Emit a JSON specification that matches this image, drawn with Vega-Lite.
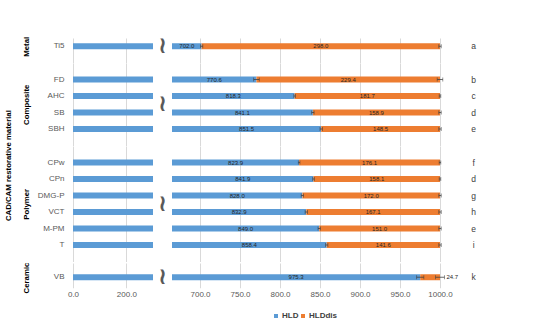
{
  "$schema": "https://vega.github.io/schema/vega-lite/v6.json",
  "padding": {"left": 5, "top": 35, "right": 5, "bottom": 0},
  "config": {
    "font": "Liberation Sans",
    "view": {"stroke": null},
    "axisY": {"domain": false, "ticks": false, "grid": false, "labelPadding": 9, "labelFontSize": 8, "labelColor": "#595959", "minExtent": 40, "maxExtent": 40, "titleFontWeight": "bold", "titleFontSize": 7.8, "titleColor": "#000000", "titlePadding": 3},
    "axisX": {"domain": false, "ticks": false, "gridColor": "#D9D9D9", "labelFontSize": 8, "labelColor": "#595959", "labelPadding": 3, "labelFlush": false, "labelOverlap": false}
  },
  "title": {"text": "CAD/CAM restorative material", "orient": "left", "anchor": "middle", "fontSize": 7.8, "fontWeight": "bold", "color": "#000000", "offset": 9, "dx": 12},
  "data": {
    "values": [
      {"material": "Ti5", "group": "Metal", "HLD": 702.0, "HLDdis": 298.0, "sdHLD": 1.5, "sdDis": 1.5, "letter": "a"},
      {"material": "FD", "group": "Composite", "HLD": 770.6, "HLDdis": 229.4, "sdHLD": 3.5, "sdDis": 3.5, "letter": "b"},
      {"material": "AHC", "group": "Composite", "HLD": 818.3, "HLDdis": 181.7, "sdHLD": 1.0, "sdDis": 1.0, "letter": "c"},
      {"material": "SB", "group": "Composite", "HLD": 841.1, "HLDdis": 158.9, "sdHLD": 1.5, "sdDis": 1.5, "letter": "d"},
      {"material": "SBH", "group": "Composite", "HLD": 851.5, "HLDdis": 148.5, "sdHLD": 1.5, "sdDis": 1.5, "letter": "e"},
      {"material": "CPw", "group": "Polymer", "HLD": 823.9, "HLDdis": 176.1, "sdHLD": 1.0, "sdDis": 1.0, "letter": "f"},
      {"material": "CPn", "group": "Polymer", "HLD": 841.9, "HLDdis": 158.1, "sdHLD": 1.0, "sdDis": 1.0, "letter": "d"},
      {"material": "DMG-P", "group": "Polymer", "HLD": 828.0, "HLDdis": 172.0, "sdHLD": 1.5, "sdDis": 1.5, "letter": "g"},
      {"material": "VCT", "group": "Polymer", "HLD": 832.9, "HLDdis": 167.1, "sdHLD": 1.5, "sdDis": 1.5, "letter": "h"},
      {"material": "M-PM", "group": "Polymer", "HLD": 849.0, "HLDdis": 151.0, "sdHLD": 1.5, "sdDis": 1.5, "letter": "e"},
      {"material": "T", "group": "Polymer", "HLD": 858.4, "HLDdis": 141.6, "sdHLD": 1.5, "sdDis": 1.5, "letter": "i"},
      {"material": "VB", "group": "Ceramic", "HLD": 975.3, "HLDdis": 24.7, "sdHLD": 4.5, "sdDis": 5.5, "letter": "k"}
    ]
  },
  "spacing": 0,
  "resolve": {"scale": {"x": "shared", "color": "shared"}},
  "vconcat": [
    {
      "width": 367, "height": 24.75,
      "transform": [{"filter": "datum.group === 'Metal'"}],
      "layer": [
        {
          "transform": [{"fold": ["HLD", "HLDdis"], "as": ["component", "value"]}],
          "mark": {"type": "bar", "size": 6},
          "encoding": {
            "y": {"field": "material", "type": "nominal", "sort": null, "scale": {"paddingInner": 0.636, "paddingOuter": 0.568, "align": 0.28}, "axis": {"title": "Metal", "titleY": 8.25}},
            "x": {"field": "value", "type": "quantitative", "stack": "zero", "scale": {"domain": [0, 300, 665, 1000], "range": [0, 80, 99, 367], "nice": false, "zero": false}, "axis": {"values": [0, 200, 700, 750, 800, 850, 900, 950, 1000], "labels": false, "title": null}},
            "color": {"field": "component", "type": "nominal", "scale": {"domain": ["HLD", "HLDdis"], "range": ["#5B9BD5", "#ED7D31"]}}
          }
        },
        {"mark": {"type": "rect", "color": "white"}, "encoding": {"x": {"datum": 300}, "x2": {"datum": 665}}},
        {"mark": {"type": "errorbar", "ticks": {"size": 4}, "color": "#404040", "thickness": 0.8}, "encoding": {"x": {"field": "HLD", "type": "quantitative"}, "xError": {"field": "sdHLD"}, "y": {"field": "material", "type": "nominal", "sort": null}}},
        {"transform": [{"calculate": "datum.HLD + datum.HLDdis", "as": "tot"}], "mark": {"type": "errorbar", "ticks": {"size": 4}, "color": "#404040", "thickness": 0.8}, "encoding": {"x": {"field": "tot", "type": "quantitative"}, "xError": {"field": "sdDis"}, "y": {"field": "material", "type": "nominal", "sort": null}}},
        {"transform": [{"calculate": "(665 + datum.HLD) / 2", "as": "m1"}], "mark": {"type": "text", "fontSize": 6, "color": "#262626"}, "encoding": {"x": {"field": "m1", "type": "quantitative"}, "y": {"field": "material", "type": "nominal", "sort": null}, "text": {"field": "HLD", "type": "quantitative", "format": ".1f"}}},
        {"transform": [{"filter": "datum.HLDdis >= 50"}, {"calculate": "datum.HLD + datum.HLDdis / 2", "as": "m2"}], "mark": {"type": "text", "fontSize": 6, "color": "#262626"}, "encoding": {"x": {"field": "m2", "type": "quantitative"}, "y": {"field": "material", "type": "nominal", "sort": null}, "text": {"field": "HLDdis", "type": "quantitative", "format": ".1f"}}},
        {"mark": {"type": "text", "text": "≀", "font": "DejaVu Sans", "fontWeight": "bold", "fontSize": 23, "color": "#595959"}, "encoding": {"x": {"datum": 482}, "y": {"field": "material", "type": "nominal", "sort": null}}},
        {"mark": {"type": "text", "fontSize": 8.5, "color": "#404040"}, "encoding": {"x": {"datum": 1042}, "y": {"field": "material", "type": "nominal", "sort": null}, "text": {"field": "letter"}}}
      ]
    },
    {
      "width": 367, "height": 82.5,
      "transform": [{"filter": "datum.group === 'Composite'"}],
      "layer": [
        {
          "transform": [{"fold": ["HLD", "HLDdis"], "as": ["component", "value"]}],
          "mark": {"type": "bar", "size": 6},
          "encoding": {
            "y": {"field": "material", "type": "nominal", "sort": null, "scale": {"paddingInner": 0.636, "paddingOuter": 0.818, "align": 0.5}, "axis": {"title": "Composite"}},
            "x": {"field": "value", "type": "quantitative", "stack": "zero", "scale": {"domain": [0, 300, 665, 1000], "range": [0, 80, 99, 367], "nice": false, "zero": false}, "axis": {"values": [0, 200, 700, 750, 800, 850, 900, 950, 1000], "labels": false, "title": null}},
            "color": {"field": "component", "type": "nominal", "scale": {"domain": ["HLD", "HLDdis"], "range": ["#5B9BD5", "#ED7D31"]}}
          }
        },
        {"mark": {"type": "rect", "color": "white"}, "encoding": {"x": {"datum": 300}, "x2": {"datum": 665}}},
        {"mark": {"type": "errorbar", "ticks": {"size": 4}, "color": "#404040", "thickness": 0.8}, "encoding": {"x": {"field": "HLD", "type": "quantitative"}, "xError": {"field": "sdHLD"}, "y": {"field": "material", "type": "nominal", "sort": null}}},
        {"transform": [{"calculate": "datum.HLD + datum.HLDdis", "as": "tot"}], "mark": {"type": "errorbar", "ticks": {"size": 4}, "color": "#404040", "thickness": 0.8}, "encoding": {"x": {"field": "tot", "type": "quantitative"}, "xError": {"field": "sdDis"}, "y": {"field": "material", "type": "nominal", "sort": null}}},
        {"transform": [{"calculate": "(665 + datum.HLD) / 2", "as": "m1"}], "mark": {"type": "text", "fontSize": 6, "color": "#262626"}, "encoding": {"x": {"field": "m1", "type": "quantitative"}, "y": {"field": "material", "type": "nominal", "sort": null}, "text": {"field": "HLD", "type": "quantitative", "format": ".1f"}}},
        {"transform": [{"filter": "datum.HLDdis >= 50"}, {"calculate": "datum.HLD + datum.HLDdis / 2", "as": "m2"}], "mark": {"type": "text", "fontSize": 6, "color": "#262626"}, "encoding": {"x": {"field": "m2", "type": "quantitative"}, "y": {"field": "material", "type": "nominal", "sort": null}, "text": {"field": "HLDdis", "type": "quantitative", "format": ".1f"}}},
        {"transform": [{"aggregate": [{"op": "count", "as": "n"}], "groupby": ["group"]}], "mark": {"type": "text", "text": "≀", "font": "DejaVu Sans", "fontWeight": "bold", "fontSize": 23, "color": "#595959"}, "encoding": {"x": {"datum": 482}}},
        {"mark": {"type": "text", "fontSize": 8.5, "color": "#404040"}, "encoding": {"x": {"datum": 1042}, "y": {"field": "material", "type": "nominal", "sort": null}, "text": {"field": "letter"}}}
      ]
    },
    {
      "width": 367, "height": 115.5,
      "transform": [{"filter": "datum.group === 'Polymer'"}],
      "layer": [
        {
          "transform": [{"fold": ["HLD", "HLDdis"], "as": ["component", "value"]}],
          "mark": {"type": "bar", "size": 6},
          "encoding": {
            "y": {"field": "material", "type": "nominal", "sort": null, "scale": {"paddingInner": 0.636, "paddingOuter": 0.818, "align": 0.5}, "axis": {"title": "Polymer"}},
            "x": {"field": "value", "type": "quantitative", "stack": "zero", "scale": {"domain": [0, 300, 665, 1000], "range": [0, 80, 99, 367], "nice": false, "zero": false}, "axis": {"values": [0, 200, 700, 750, 800, 850, 900, 950, 1000], "labels": false, "title": null}},
            "color": {"field": "component", "type": "nominal", "scale": {"domain": ["HLD", "HLDdis"], "range": ["#5B9BD5", "#ED7D31"]}}
          }
        },
        {"mark": {"type": "rect", "color": "white"}, "encoding": {"x": {"datum": 300}, "x2": {"datum": 665}}},
        {"mark": {"type": "errorbar", "ticks": {"size": 4}, "color": "#404040", "thickness": 0.8}, "encoding": {"x": {"field": "HLD", "type": "quantitative"}, "xError": {"field": "sdHLD"}, "y": {"field": "material", "type": "nominal", "sort": null}}},
        {"transform": [{"calculate": "datum.HLD + datum.HLDdis", "as": "tot"}], "mark": {"type": "errorbar", "ticks": {"size": 4}, "color": "#404040", "thickness": 0.8}, "encoding": {"x": {"field": "tot", "type": "quantitative"}, "xError": {"field": "sdDis"}, "y": {"field": "material", "type": "nominal", "sort": null}}},
        {"transform": [{"calculate": "(665 + datum.HLD) / 2", "as": "m1"}], "mark": {"type": "text", "fontSize": 6, "color": "#262626"}, "encoding": {"x": {"field": "m1", "type": "quantitative"}, "y": {"field": "material", "type": "nominal", "sort": null}, "text": {"field": "HLD", "type": "quantitative", "format": ".1f"}}},
        {"transform": [{"filter": "datum.HLDdis >= 50"}, {"calculate": "datum.HLD + datum.HLDdis / 2", "as": "m2"}], "mark": {"type": "text", "fontSize": 6, "color": "#262626"}, "encoding": {"x": {"field": "m2", "type": "quantitative"}, "y": {"field": "material", "type": "nominal", "sort": null}, "text": {"field": "HLDdis", "type": "quantitative", "format": ".1f"}}},
        {"transform": [{"aggregate": [{"op": "count", "as": "n"}], "groupby": ["group"]}], "mark": {"type": "text", "text": "≀", "font": "DejaVu Sans", "fontWeight": "bold", "fontSize": 23, "color": "#595959"}, "encoding": {"x": {"datum": 482}}},
        {"mark": {"type": "text", "fontSize": 8.5, "color": "#404040"}, "encoding": {"x": {"datum": 1042}, "y": {"field": "material", "type": "nominal", "sort": null}, "text": {"field": "letter"}}}
      ]
    },
    {
      "width": 367, "height": 24.75,
      "transform": [{"filter": "datum.group === 'Ceramic'"}],
      "layer": [
        {
          "transform": [{"fold": ["HLD", "HLDdis"], "as": ["component", "value"]}],
          "mark": {"type": "bar", "size": 6},
          "encoding": {
            "y": {"field": "material", "type": "nominal", "sort": null, "scale": {"paddingInner": 0.636, "paddingOuter": 0.568, "align": 0.6}, "axis": {"title": "Ceramic", "titleY": 14.5}},
            "x": {"field": "value", "type": "quantitative", "stack": "zero", "scale": {"domain": [0, 300, 665, 1000], "range": [0, 80, 99, 367], "nice": false, "zero": false}, "axis": {"values": [0, 200, 700, 750, 800, 850, 900, 950, 1000], "format": ".1f", "title": null}},
            "color": {"field": "component", "type": "nominal", "scale": {"domain": ["HLD", "HLDdis"], "range": ["#5B9BD5", "#ED7D31"]}, "legend": {"title": null, "orient": "none", "legendX": 199, "legendY": 274, "direction": "horizontal", "symbolType": "square", "symbolSize": 16, "labelFontWeight": "bold", "labelFontSize": 8, "labelColor": "#404040", "labelOffset": 2, "columnPadding": -3}}
          }
        },
        {"mark": {"type": "rect", "color": "white"}, "encoding": {"x": {"datum": 300}, "x2": {"datum": 665}}},
        {"mark": {"type": "errorbar", "ticks": {"size": 4}, "color": "#404040", "thickness": 0.8}, "encoding": {"x": {"field": "HLD", "type": "quantitative"}, "xError": {"field": "sdHLD"}, "y": {"field": "material", "type": "nominal", "sort": null}}},
        {"transform": [{"calculate": "datum.HLD + datum.HLDdis", "as": "tot"}], "mark": {"type": "errorbar", "ticks": {"size": 4}, "color": "#404040", "thickness": 0.8}, "encoding": {"x": {"field": "tot", "type": "quantitative"}, "xError": {"field": "sdDis"}, "y": {"field": "material", "type": "nominal", "sort": null}}},
        {"transform": [{"calculate": "(665 + datum.HLD) / 2", "as": "m1"}], "mark": {"type": "text", "fontSize": 6, "color": "#262626"}, "encoding": {"x": {"field": "m1", "type": "quantitative"}, "y": {"field": "material", "type": "nominal", "sort": null}, "text": {"field": "HLD", "type": "quantitative", "format": ".1f"}}},
        {"transform": [{"filter": "datum.HLDdis < 50"}, {"calculate": "datum.HLD + datum.HLDdis + datum.sdDis", "as": "m3"}], "mark": {"type": "text", "fontSize": 6, "color": "#262626", "align": "left", "dx": 2}, "encoding": {"x": {"field": "m3", "type": "quantitative"}, "y": {"field": "material", "type": "nominal", "sort": null}, "text": {"field": "HLDdis", "type": "quantitative", "format": ".1f"}}},
        {"mark": {"type": "text", "text": "≀", "font": "DejaVu Sans", "fontWeight": "bold", "fontSize": 23, "color": "#595959"}, "encoding": {"x": {"datum": 482}, "y": {"field": "material", "type": "nominal", "sort": null}}},
        {"mark": {"type": "text", "fontSize": 8.5, "color": "#404040"}, "encoding": {"x": {"datum": 1042}, "y": {"field": "material", "type": "nominal", "sort": null}, "text": {"field": "letter"}}}
      ]
    }
  ]
}
